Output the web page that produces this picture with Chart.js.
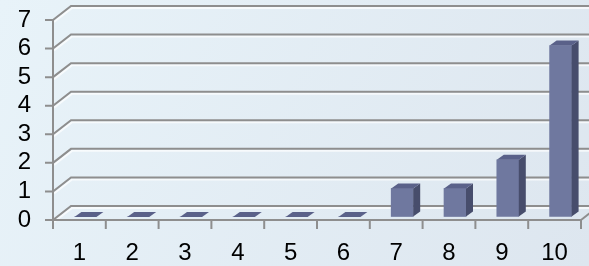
<!DOCTYPE html>
<html>
<head>
<meta charset="utf-8">
<script src="https://cdn.jsdelivr.net/npm/chart.js@4"></script>
<style>
  html, body { margin: 0; padding: 0; background: #e4eef5; }
  #wrap { width: 589px; height: 266px; }
</style>
</head>
<body>
<div id="wrap"><canvas id="chart" width="589" height="266"></canvas></div>
<script>
"use strict";

// ── data ─────────────────────────────────────────────
const categories = ["1", "2", "3", "4", "5", "6", "7", "8", "9", "10"];
const values     = [0, 0, 0, 0, 0, 0, 1, 1, 2, 6];
const yTicks     = [0, 1, 2, 3, 4, 5, 6, 7];

// ── 3D look ─────────────────────────────────────────
const WALL_DX = 18, WALL_DY = -14;   // depth of back wall
const BAR_SHIFT_X = 6, BAR_SHIFT_Y = -3;
const BAR_DX = 7, BAR_DY = -5;       // depth of each bar
const LINE = "#8e8e8e";
const FONT = { family: "'Liberation Sans', Arial, sans-serif", size: 24 };

const frame3d = {
  id: "frame3d",
  beforeDraw(chart) {
    const { ctx, width, height } = chart;
    const g = ctx.createLinearGradient(0, 0, width, height);
    g.addColorStop(0, "#e8f3f9");
    g.addColorStop(1, "#dde6ef");
    ctx.save();
    ctx.fillStyle = g;
    ctx.fillRect(0, 0, width, height);
    ctx.restore();
  },
  beforeDatasetsDraw(chart) {
    const { ctx, chartArea: a, scales: { y } } = chart;
    ctx.save();
    ctx.lineWidth = 2;

    // back wall grid lines
    yTicks.forEach(v => {
      const py = y.getPixelForValue(v);
      ctx.strokeStyle = "rgba(255,255,255,0.7)";
      ctx.beginPath();
      ctx.moveTo(a.left + 1, py + 2);
      ctx.lineTo(a.left + WALL_DX + 1, py + WALL_DY + 2);
      ctx.lineTo(chart.width, py + WALL_DY + 2);
      ctx.stroke();
      ctx.strokeStyle = LINE;
      ctx.beginPath();
      ctx.moveTo(a.left, py);
      ctx.lineTo(a.left + WALL_DX, py + WALL_DY);
      ctx.lineTo(chart.width, py + WALL_DY);
      ctx.stroke();
    });

    // floor right edge
    ctx.strokeStyle = LINE;
    ctx.beginPath();
    ctx.moveTo(a.right, a.bottom);
    ctx.lineTo(a.right + WALL_DX, a.bottom + WALL_DY);
    ctx.stroke();

    // y axis + ticks
    ctx.beginPath();
    ctx.moveTo(a.left, a.top);
    ctx.lineTo(a.left, a.bottom + 9);
    yTicks.forEach(v => {
      const py = y.getPixelForValue(v);
      ctx.moveTo(a.left - 8, py);
      ctx.lineTo(a.left, py);
    });
    // x axis + ticks at category boundaries
    ctx.moveTo(a.left, a.bottom);
    ctx.lineTo(a.right, a.bottom);
    const step = (a.right - a.left) / categories.length;
    for (let i = 0; i <= categories.length; i++) {
      const px = a.left + i * step;
      ctx.moveTo(px, a.bottom);
      ctx.lineTo(px, a.bottom + 9);
    }
    ctx.stroke();
    ctx.restore();
  },
  beforeDatasetDraw(chart) {
    chart.ctx.save();
    chart.ctx.translate(BAR_SHIFT_X, BAR_SHIFT_Y);
  },
  afterDatasetDraw(chart, args) {
    const ctx = chart.ctx;
    args.meta.data.forEach(bar => {
      const { x, y, base, width } = bar.getProps(["x", "y", "base", "width"], true);
      const l = x - width / 2, r = x + width / 2;
      // side
      ctx.fillStyle = "#474d6c";
      ctx.beginPath();
      ctx.moveTo(r, y);
      ctx.lineTo(r + BAR_DX, y + BAR_DY);
      ctx.lineTo(r + BAR_DX, base + BAR_DY);
      ctx.lineTo(r, base);
      ctx.closePath();
      ctx.fill();
      // top
      ctx.fillStyle = "#5a6189";
      ctx.beginPath();
      ctx.moveTo(l, y);
      ctx.lineTo(r, y);
      ctx.lineTo(r + BAR_DX, y + BAR_DY);
      ctx.lineTo(l + BAR_DX, y + BAR_DY);
      ctx.closePath();
      ctx.fill();
    });
    ctx.restore();
  },
};

new Chart(document.getElementById("chart"), {
  type: "bar",
  data: {
    labels: categories,
    datasets: [{
      data: values,
      backgroundColor: "#6f789f",
      barThickness: 22,
    }],
  },
  options: {
    responsive: false,
    animation: false,
    devicePixelRatio: 1,
    layout: { padding: { top: 20, right: 8, left: 0, bottom: 0 } },
    plugins: { legend: { display: false }, tooltip: { enabled: false } },
    scales: {
      x: {
        grid: { display: false, drawTicks: false },
        border: { display: false },
        ticks: { color: "#000", padding: 19, autoSkip: false, maxRotation: 0, font: FONT },
        afterFit(s) { s.height = 46; },
      },
      y: {
        min: 0,
        max: 7,
        // invisible tick marks only used to push the labels left
        grid: { display: true, drawOnChartArea: false, drawTicks: true, tickLength: 22, color: "rgba(0,0,0,0)" },
        border: { display: false },
        ticks: {
          stepSize: 1,
          autoSkip: false,
          color: "#000",
          padding: 0,
          font: FONT,
          callback: v => String(yTicks[v] ?? v),
        },
        afterFit(s) { s.width = 53; },
      },
    },
  },
  plugins: [frame3d],
});
</script>
</body>
</html>
